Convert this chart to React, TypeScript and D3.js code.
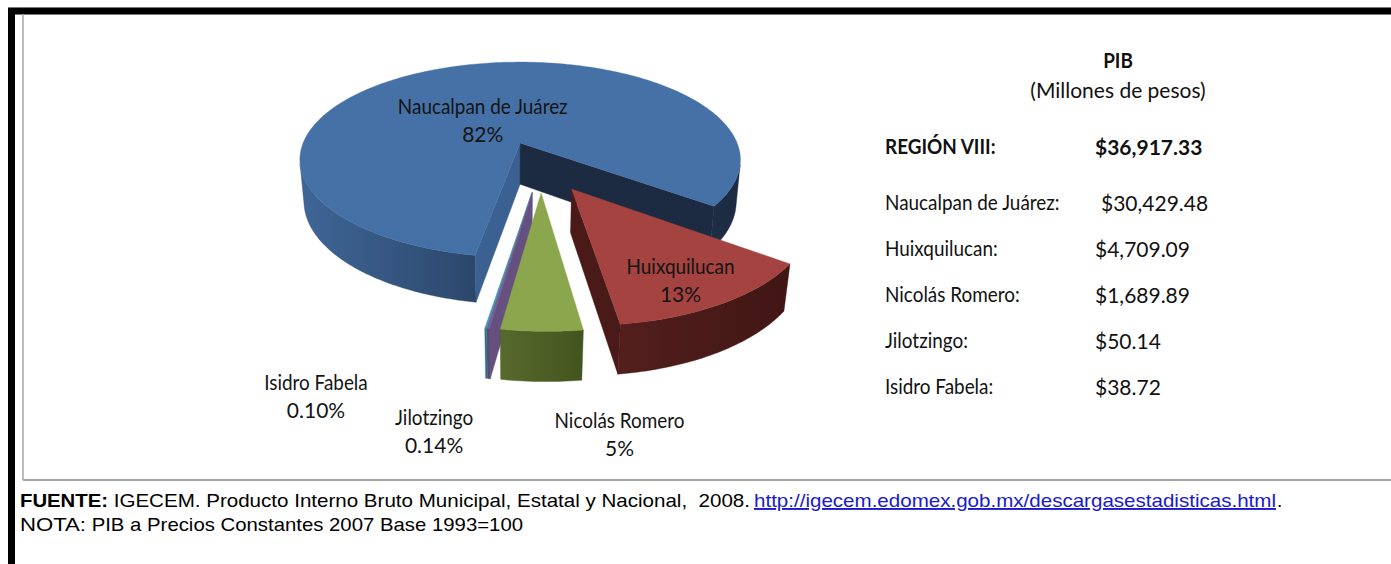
import * as d3 from "d3";

// PIB municipal, región VIII (millones de pesos)
const municipios = [
  "Naucalpan de Juárez",
  "Huixquilucan",
  "Nicolás Romero",
  "Jilotzingo",
  "Isidro Fabela",
];
const pibMillones = [30429.48, 4709.09, 1689.89, 50.14, 38.72];
const regionNombre = "REGIÓN VIII:";
const regionTotal = 36917.33;
const tituloTabla = ["PIB", "(Millones de pesos)"];

const fuenteEtiqueta = "FUENTE:";
const fuenteTexto =
  " IGECEM. Producto Interno Bruto Municipal, Estatal y Nacional,  2008.";
const fuenteLink = "http://igecem.edomex.gob.mx/descargasestadisticas.html";
const notaEtiqueta = "NOTA:";
const notaTexto = " PIB a Precios Constantes 2007 Base 1993=100";

// slice styling (Excel 2007 3-D look)
const topColor = ["#4571A7", "#A4433F", "#8BA64C", "#7B5F99", "#4198B0"];
// outer side gradients: [left-facing, right-facing]
const sideColor = [
  [["#3F6697", "#2C476B"], ["#1E2E45", "#1C2B41"]],
  [["#531F1D", "#401614"], ["#531F1D", "#401614"]],
  [["#58692D", "#43551E"], ["#58692D", "#43551E"]],
  [["#5E4876", "#5E4876"], ["#5E4876", "#5E4876"]],
  [["#2F7285", "#2F7285"], ["#2F7285", "#2F7285"]],
];
// radial walls: [start, end]
const wallColor = [
  ["#3A6191", "#1C2B41"],
  ["#4A1A18", "#4A1A18"],
  ["#566A2C", "#566A2C"],
  ["#65507F", "#65507F"],
  ["#2F7285", "#2F7285"],
];
// label anchor in the pie plane: [angle deg, radius]
const labelPolar = [
  [331, 0.56],
  [151.6, 1.05],
  [173.4, 1.79],
  [191.4, 1.8],
  [204.9, 1.76],
];

const W = 1391;
const H = 564;

// projection of the 3-D pie
const K = 226;
const SIN_A = 0.455;
const COS_A = Math.sqrt(1 - SIN_A * SIN_A);
const DIST = 5;
const CAM_X = -0.1;
const X0 = 541;
const Y0 = 166;
const DEPTH = 0.215;
const EXPLODE = 0.25;
const START = (190 * Math.PI) / 180;

type P = [number, number];

function project(X: number, Y: number, Z: number): P {
  const d = Z * COS_A + Y * SIN_A;
  const s = DIST / (DIST - d);
  return [X0 + K * ((X - CAM_X) * s + CAM_X), Y0 + K * (Z * SIN_A - Y * COS_A) * s];
}

const camPos = [CAM_X, DIST * SIN_A, DIST * COS_A];

const polygon = d3.line<P>().x((p) => p[0]).y((p) => p[1]);
const closed = (pts: P[]) => polygon(pts) + "Z";

export default function App() {
  const arcs = d3
    .pie<number>()
    .sort(null)
    .startAngle(START)
    .endAngle(START + 2 * Math.PI)(pibMillones);

  const total = d3.sum(pibMillones);
  const pct = (v: number) =>
    v / total >= 0.01 ? d3.format(".0%")(v / total) : d3.format(".2%")(v / total);

  const slices = arcs.map((a, i) => {
    const mid = (a.startAngle + a.endAngle) / 2;
    const ox = EXPLODE * Math.sin(mid);
    const oz = -EXPLODE * Math.cos(mid);
    const n = Math.max(2, Math.ceil((a.endAngle - a.startAngle) / (Math.PI / 180)));
    const angles = d3.range(n + 1).map((j) => a.startAngle + ((a.endAngle - a.startAngle) * j) / n);
    const rim = angles.map((t) => [ox + Math.sin(t), oz - Math.cos(t)]);
    const topPts: P[] = [project(ox, 0, oz), ...rim.map((r) => project(r[0], 0, r[1]))];

    // outer side: contiguous runs of camera-facing segments
    const runs: number[][] = [];
    let cur: number[] = [];
    for (let j = 0; j < n; j++) {
      const m = (angles[j] + angles[j + 1]) / 2;
      const px = ox + Math.sin(m);
      const pz = oz - Math.cos(m);
      const vis = (camPos[0] - px) * Math.sin(m) + (camPos[2] - pz) * -Math.cos(m) > 0;
      if (vis) {
        if (cur.length === 0) cur.push(j);
        cur.push(j + 1);
      } else if (cur.length) {
        runs.push(cur);
        cur = [];
      }
    }
    if (cur.length) runs.push(cur);
    const sides = runs.map((run) => {
      const up = run.map((k) => project(rim[k][0], 0, rim[k][1]));
      const down = run.map((k) => project(rim[k][0], -DEPTH, rim[k][1])).reverse();
      const runMid = angles[run[Math.floor(run.length / 2)]];
      const colors = sideColor[i][Math.sin(runMid) < 0 ? 0 : 1];
      return { d: closed([...up, ...down]), colors };
    });

    // radial walls
    const walls: { d: string; color: string }[] = [];
    const wallDefs = [
      { t: a.startAngle, nx: -Math.cos(a.startAngle), nz: -Math.sin(a.startAngle), c: wallColor[i][0] },
      { t: a.endAngle, nx: Math.cos(a.endAngle), nz: Math.sin(a.endAngle), c: wallColor[i][1] },
    ];
    wallDefs.forEach((w) => {
      const rx = ox + Math.sin(w.t);
      const rz = oz - Math.cos(w.t);
      const cx = (ox + rx) / 2;
      const cz = (oz + rz) / 2;
      const vis = (camPos[0] - cx) * w.nx + (camPos[2] - cz) * w.nz > 0;
      if (vis) {
        walls.push({
          d: closed([
            project(ox, 0, oz),
            project(rx, 0, rz),
            project(rx, -DEPTH, rz),
            project(ox, -DEPTH, oz),
          ]),
          color: w.c,
        });
      }
    });

    const lp = labelPolar[i];
    const la = (lp[0] * Math.PI) / 180;
    const label = project(lp[1] * Math.sin(la), 0, -lp[1] * Math.cos(la));

    return { i, oz, top: closed(topPts), sides, walls, label, pct: pct(a.data) };
  });

  const order = [...slices].sort((p, q) => p.oz - q.oz);

  const money = d3.format("$,.2f");
  const rowY = d3.scalePoint<string>().domain(municipios).range([202, 386]);

  const calibri = "Lato, Carlito, Calibri, sans-serif";
  const arial = "'Liberation Sans', Arial, sans-serif";
  const FS = 21;
  const NARROW = 0.9; // Lato is wider than Calibri for letters

  const nameText = (x: number, y: number, txt: string, anchor: string, bold = false, key?: string) => (
    <text
      key={key}
      transform={`translate(${x},${y}) scale(${NARROW},1)`}
      textAnchor={anchor}
      dominantBaseline="central"
      fontWeight={bold ? "bold" : "normal"}
    >
      {txt}
    </text>
  );

  return (
    <svg
      width={W}
      height={H}
      style={{ position: "absolute", left: 0, top: 0, background: "#fff" }}
    >
      <defs>
        {slices.map((s) =>
          s.sides.map((sd, r) => (
            <linearGradient key={`g${s.i}-${r}`} id={`side-${s.i}-${r}`} x1="0" x2="1" y1="0" y2="0">
              <stop offset="0" stopColor={sd.colors[0]} />
              <stop offset="1" stopColor={sd.colors[1]} />
            </linearGradient>
          ))
        )}
      </defs>

      {/* frame */}
      <rect x={8} y={7} width={W - 8} height={8} fill="#777" />
      <rect x={8} y={8} width={W - 8} height={6} fill="#000" />
      <rect x={8} y={8} width={7} height={H - 8} fill="#000" />
      <line x1={23} y1={14} x2={23} y2={480} stroke="#a6a6a6" strokeWidth={1.5} />
      <line x1={23} y1={480} x2={W} y2={480} stroke="#a6a6a6" strokeWidth={2} />

      {/* 3-D pie */}
      {order.map((s) => (
        <g key={s.i}>
          {s.sides.map((sd, r) => (
            <path key={r} d={sd.d} fill={`url(#side-${s.i}-${r})`} stroke={sd.colors[1]} strokeWidth={0.4} />
          ))}
          {s.walls.map((w, r) => (
            <path key={`w${r}`} d={w.d} fill={w.color} stroke={w.color} strokeWidth={0.4} />
          ))}
          <path d={s.top} fill={topColor[s.i]} stroke={topColor[s.i]} strokeWidth={0.4} />
        </g>
      ))}

      {/* data labels */}
      <g fontFamily={calibri} fontSize={FS} fill="#141414">
        {slices.map((s) => (
          <g key={`l${s.i}`}>
            {nameText(s.label[0], s.label[1] - 14, municipios[s.i], "middle")}
            <text x={s.label[0]} y={s.label[1] + 14} textAnchor="middle" dominantBaseline="central">
              {s.pct}
            </text>
          </g>
        ))}
      </g>

      {/* table */}
      <g fontFamily={calibri} fontSize={FS} fill="#111">
        {nameText(1118, 60, tituloTabla[0], "middle", true)}
        <text x={1118} y={89} textAnchor="middle" dominantBaseline="central">
          {tituloTabla[1]}
        </text>
        {nameText(885, 146, regionNombre, "start", true)}
        <text x={1095} y={146} fontWeight="bold" dominantBaseline="central">
          {money(regionTotal)}
        </text>
        {municipios.map((m, i) => (
          <g key={m}>
            {nameText(885, rowY(m) as number, `${m}:`, "start")}
            {/* long label pushes the value past the tab stop */}
            <text x={i === 0 ? 1101 : 1095} y={rowY(m)} dominantBaseline="central">
              {money(pibMillones[i])}
            </text>
          </g>
        ))}
      </g>

      {/* footnotes */}
      <g fontFamily={arial} fontSize={19} fill="#000">
        <text x={20} y={507} fontWeight="bold" textLength={88} lengthAdjust="spacingAndGlyphs">
          {fuenteEtiqueta}
        </text>
        <text x={108} y={507} textLength={642} lengthAdjust="spacingAndGlyphs" xmlSpace="preserve">
          {fuenteTexto}
        </text>
        <text
          x={754}
          y={507}
          fill="#1a1acc"
          textDecoration="underline"
          textLength={522}
          lengthAdjust="spacingAndGlyphs"
        >
          {fuenteLink}
        </text>
        <text x={1277} y={507}>.</text>
        <text x={20} y={531} textLength={66} lengthAdjust="spacingAndGlyphs">
          {notaEtiqueta}
        </text>
        <text x={86} y={531} textLength={437} lengthAdjust="spacingAndGlyphs" xmlSpace="preserve">
          {notaTexto}
        </text>
      </g>
    </svg>
  );
}
